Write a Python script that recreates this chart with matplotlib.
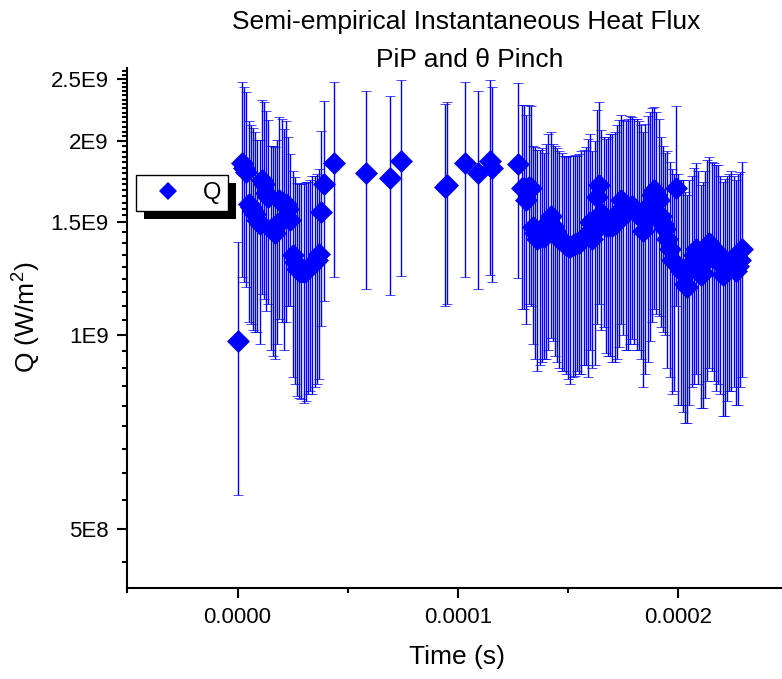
import numpy as np
import matplotlib
matplotlib.use("Agg")
import matplotlib.pyplot as plt
from matplotlib.ticker import FixedLocator, FixedFormatter, NullFormatter
from matplotlib.lines import Line2D
from matplotlib.patches import Rectangle

# ---- data: time (microseconds), heat flux Q and its error (GW/m^2) ----
time_us = [
    0, 2, 3, 4, 5, 6, 7, 8, 9, 10, 11, 12, 13, 14, 15, 16, 17, 18, 19, 20,
    21, 22, 23, 24, 25, 26, 27, 28, 29, 30, 31, 32, 33, 34, 35, 36, 37, 38, 39,
    43.75, 58.1, 69.1, 74.1, 94.0, 95.1, 103.0, 109.2, 114.3, 115.2, 127.1,
    129, 130, 131, 132, 133, 134, 135, 136, 137, 138, 139, 140, 141, 142, 143,
    144, 145, 146, 147, 148, 149, 150, 151, 152, 153, 154, 155, 156, 157, 158,
    159, 160, 161, 162, 163, 164, 165, 166, 167, 168, 169, 170, 171, 172, 173,
    174, 175, 176, 177, 178, 179, 180, 181, 182, 183, 184, 185, 186, 187, 188,
    189, 190, 191, 192, 193, 194, 195, 196, 197, 198, 199, 200, 201, 202, 203,
    204, 205, 206, 207, 208, 209, 210, 211, 212, 213, 214, 215, 216, 217, 218,
    219, 220, 221, 222, 223, 224, 225, 226, 227, 228, 229,
]
q_gw = [
    0.98, 1.85, 1.82, 1.79, 1.60, 1.58, 1.56, 1.54, 1.51, 1.49, 1.74, 1.72, 1.66,
    1.64, 1.46, 1.45, 1.44, 1.49, 1.62, 1.61, 1.52, 1.60, 1.57, 1.51, 1.33, 1.30,
    1.265, 1.26, 1.255, 1.255, 1.26, 1.27, 1.28, 1.29, 1.30, 1.31, 1.335, 1.555,
    1.72,
    1.85, 1.786, 1.754, 1.862, 1.70, 1.71, 1.851, 1.786, 1.866, 1.818, 1.845,
    1.69, 1.69, 1.62, 1.70, 1.69, 1.47, 1.44, 1.41, 1.42, 1.43, 1.42, 1.45, 1.50,
    1.53, 1.48, 1.45, 1.43, 1.41, 1.40, 1.39, 1.38, 1.375, 1.37, 1.38, 1.385,
    1.39, 1.39, 1.40, 1.42, 1.43, 1.44, 1.50, 1.41, 1.45, 1.64, 1.71, 1.55, 1.53,
    1.48, 1.48, 1.49, 1.48, 1.49, 1.52, 1.56, 1.62, 1.58, 1.55, 1.56, 1.58,
    1.585, 1.57, 1.56, 1.55, 1.52, 1.45, 1.50, 1.55, 1.60, 1.65, 1.68, 1.65,
    1.62, 1.53, 1.49, 1.46, 1.41, 1.36, 1.31, 1.30, 1.69, 1.28, 1.26, 1.25, 1.20,
    1.19, 1.26, 1.30, 1.33, 1.36, 1.32, 1.24, 1.25, 1.30, 1.36, 1.39, 1.37, 1.35,
    1.33, 1.34, 1.29, 1.24, 1.25, 1.28, 1.30, 1.31, 1.30, 1.26, 1.28, 1.31, 1.36,
]
err_gw = [
    0.415, 0.62, 0.61, 0.60, 0.55, 0.54, 0.54, 0.53, 0.50, 0.52, 0.58, 0.58, 0.57,
    0.52, 0.51, 0.52, 0.52, 0.52, 0.56, 0.56, 0.57, 0.55, 0.46, 0.40, 0.47, 0.46,
    0.46, 0.46, 0.46, 0.47, 0.47, 0.46, 0.46, 0.48, 0.47, 0.47, 0.48, 0.52, 0.59,
    0.62, 0.605, 0.60, 0.625, 0.59, 0.59, 0.62, 0.606, 0.625, 0.61, 0.62,
    0.59, 0.59, 0.58, 0.58, 0.58, 0.50, 0.52, 0.53, 0.52, 0.52, 0.50, 0.53, 0.55,
    0.54, 0.50, 0.52, 0.52, 0.52, 0.52, 0.51, 0.51, 0.52, 0.53, 0.52, 0.52,
    0.51, 0.52, 0.53, 0.52, 0.53, 0.58, 0.55, 0.52, 0.55, 0.60, 0.59, 0.53, 0.50,
    0.54, 0.55, 0.56, 0.57, 0.58, 0.60, 0.60, 0.58, 0.58, 0.60, 0.61, 0.61,
    0.60, 0.60, 0.61, 0.60, 0.60, 0.62, 0.63, 0.64, 0.62, 0.60, 0.58, 0.57,
    0.55, 0.50, 0.48, 0.46, 0.52, 0.50, 0.50, 0.48, 0.58, 0.50, 0.48, 0.49, 0.47,
    0.46, 0.48, 0.47, 0.49, 0.49, 0.48, 0.47, 0.48, 0.50, 0.51, 0.50, 0.49, 0.50,
    0.51, 0.50, 0.48, 0.49, 0.50, 0.49, 0.48, 0.49, 0.47, 0.48, 0.50, 0.48, 0.50,
]

x_major = [0.0, 1e-4, 2e-4]
x_major_labels = ["0.0000", "0.0001", "0.0002"]
x_minor = [-5e-5, 5e-5, 1.5e-4, 2.5e-4]
y_major = [5e8, 1e9, 1.5e9, 2e9, 2.5e9]
y_major_labels = ["5E8", "1E9", "1.5E9", "2E9", "2.5E9"]

title_lines = ["Semi-empirical Instantaneous Heat Flux", "PiP and \u03b8 Pinch"]
series_name = "Q"
blue = "#0000ff"

plt.rcParams["font.family"] = ["Liberation Sans", "DejaVu Sans"]
plt.rcParams["mathtext.fontset"] = "custom"
plt.rcParams["mathtext.rm"] = "Liberation Sans"
plt.rcParams["mathtext.default"] = "regular"

W, H = 782, 679
fig = plt.figure(figsize=(W / 100, H / 100), dpi=100)
ax = fig.add_axes([127.3 / W, 91 / H, (788.7 - 127.3) / W, (611 - 91) / H])

t = np.array(time_us) * 1e-6
q = np.array(q_gw) * 1e9
e = np.array(err_gw) * 1e9

ax.errorbar(t, q, yerr=e, fmt="D", color=blue, ms=10.8, mec=blue, mew=0.5,
            ecolor=blue, elinewidth=1.0, capsize=3.8, capthick=1.0)

ax.set_yscale("log")
ax.set_ylim(4.05e8, 2.6e9)
ax.set_xlim(-5e-5, 2.5e-4)

# minor ticks on the log axis, evenly spaced in value inside each labelled step
y_minor = [5e8 - 0.5e9 / 9]
y_minor += [5e8 + k * 0.5e9 / 9 for k in range(1, 9)]
y_minor += [1e9 + k * 0.5e9 / 9 for k in range(1, 9)]
y_minor += [1.5e9 + k * 0.5e9 / 14 for k in range(1, 14)]
y_minor += [2e9 + k * 0.5e9 / 14 for k in range(1, 14)]
y_minor += [2.5e9 + k * 0.5e9 / 14 for k in range(1, 3)]

ax.yaxis.set_major_locator(FixedLocator(y_major))
ax.yaxis.set_major_formatter(FixedFormatter(y_major_labels))
ax.yaxis.set_minor_locator(FixedLocator(y_minor))
ax.yaxis.set_minor_formatter(NullFormatter())
ax.xaxis.set_major_locator(FixedLocator(x_major))
ax.xaxis.set_major_formatter(FixedFormatter(x_major_labels))
ax.xaxis.set_minor_locator(FixedLocator(x_minor))

for side in ("top", "right"):
    ax.spines[side].set_visible(False)
for side in ("left", "bottom"):
    ax.spines[side].set_linewidth(1.5)

ax.tick_params(which="major", direction="out", length=7.5, width=1.5,
               labelsize=16, pad=6)
ax.tick_params(which="minor", direction="out", length=3.6, width=1.5)

ax.set_ylabel("Q (W/m$^2$)", fontsize=19)
ax.yaxis.set_label_coords((43 - 127.3) / 661.4, 0.52)
ax.set_xlabel("Time (s)", fontsize=19)
ax.xaxis.set_label_coords((457 - 127.3) / 661.4, (588 - 645) / 520)

fig.text(466 / W, 1 - 22 / H, title_lines[0], ha="center", va="center", fontsize=19)
fig.text(470 / W, 1 - 60 / H, title_lines[1], ha="center", va="center", fontsize=19)

handle = Line2D([], [], ls="none", marker="D", ms=9.5, color=blue, mew=0)
leg = ax.legend([handle], [series_name], loc="upper left",
                bbox_to_anchor=(136.3 / W, 1 - 175.3 / H),
                bbox_transform=fig.transFigure, frameon=True, fancybox=False,
                framealpha=1, edgecolor="black", fontsize=17,
                borderpad=0.3, handlelength=2.1, handletextpad=0.42,
                borderaxespad=0)
leg.get_frame().set_linewidth(1.0)

fig.canvas.draw()
bb = leg.get_frame().get_window_extent()
shadow = Rectangle((bb.x0 + 7.5, bb.y0 - 7.5), bb.width, bb.height,
                   transform=None, facecolor="black", edgecolor="none",
                   zorder=leg.get_zorder() - 0.1, clip_on=False)
ax.add_patch(shadow)

fig.savefig("out.png", dpi=100)
